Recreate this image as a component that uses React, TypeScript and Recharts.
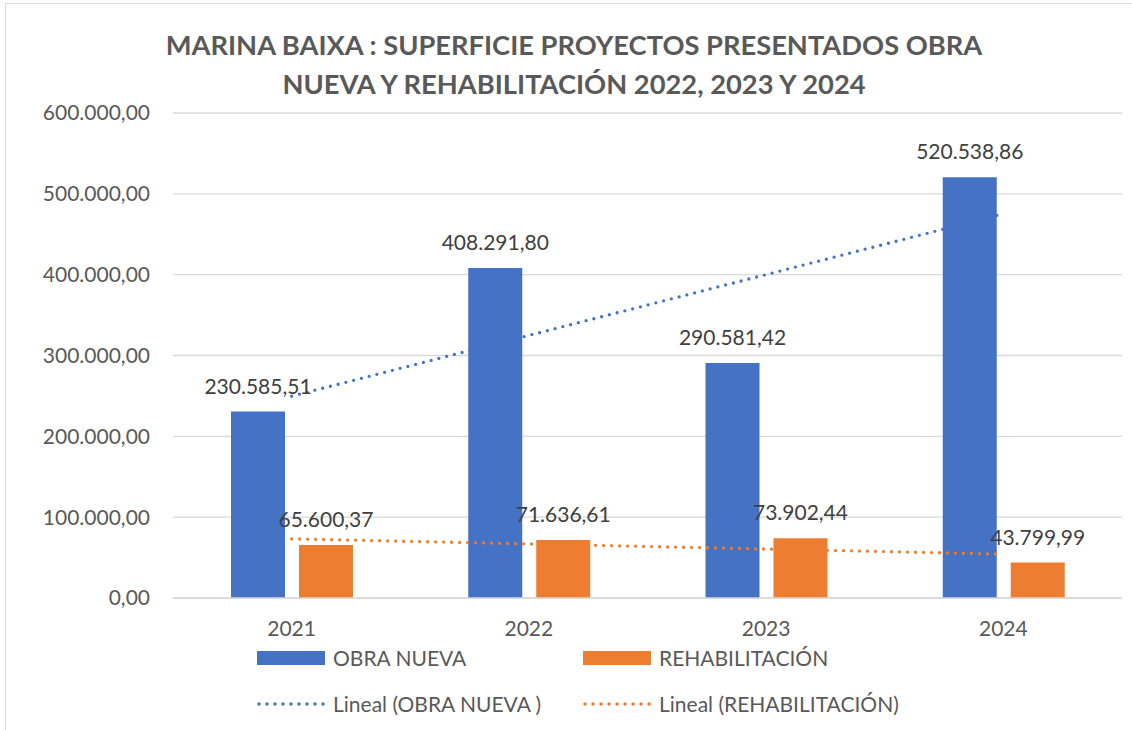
import {
  Bar,
  CartesianGrid,
  ComposedChart,
  LabelList,
  Line,
  XAxis,
  YAxis,
} from "recharts";

const years = ["2021", "2022", "2023", "2024"];
const obraNueva = [230585.51, 408291.8, 290581.42, 520538.86];
const rehabilitacion = [65600.37, 71636.61, 73902.44, 43799.99];
const yTicks = [0, 100000, 200000, 300000, 400000, 500000, 600000];

const BLUE = "#4472C4";
const ORANGE = "#ED7D31";
const FONT = "Lato, 'Open Sans', sans-serif";

// least squares fit, same as Excel's "Lineal" trendline
function linearTrend(values: number[]): number[] {
  const n = values.length;
  const xs = values.map((_, i) => i + 1);
  const mx = xs.reduce((a, b) => a + b, 0) / n;
  const my = values.reduce((a, b) => a + b, 0) / n;
  let num = 0;
  let den = 0;
  xs.forEach((x, i) => {
    num += (x - mx) * (values[i] - my);
    den += (x - mx) * (x - mx);
  });
  const slope = num / den;
  return xs.map((x) => my + slope * (x - mx));
}

const trendObra = linearTrend(obraNueva);
const trendRehab = linearTrend(rehabilitacion);

const data = years.map((year, i) => ({
  year,
  obra: obraNueva[i],
  rehab: rehabilitacion[i],
  trendObra: trendObra[i],
  trendRehab: trendRehab[i],
}));

function fmt(v: number): string {
  const fixed = Math.abs(v).toFixed(2);
  const [int, dec] = fixed.split(".");
  const grouped = int.replace(/\B(?=(\d{3})+(?!\d))/g, ".");
  return (v < 0 ? "-" : "") + grouped + "," + dec;
}

function LegendItem({
  color,
  label,
  dotted,
}: {
  color: string;
  label: string;
  dotted?: boolean;
}) {
  return (
    <div style={{ display: "flex", alignItems: "center", width: 326 }}>
      <svg width={76} height={20} style={{ flexShrink: 0 }}>
        {dotted ? (
          <line
            x1={2}
            y1={10}
            x2={68}
            y2={10}
            stroke={color}
            strokeWidth={3.5}
            strokeDasharray="0 8"
            strokeLinecap="round"
          />
        ) : (
          <rect x={0} y={3} width={68} height={14} fill={color} />
        )}
      </svg>
      <span style={{ fontSize: 21, color: "#595959", whiteSpace: "nowrap" }}>
        {label}
      </span>
    </div>
  );
}

export default function App() {
  return (
    <div
      style={{
        position: "absolute",
        left: 0,
        top: 0,
        width: 1132,
        height: 730,
        background: "#fff",
        fontFamily: FONT,
        overflow: "hidden",
      }}
    >
      <div
        style={{
          position: "absolute",
          left: 5,
          top: 3,
          width: 1140,
          height: 740,
          border: "1.5px solid #d9d9d9",
        }}
      />
      <div
        style={{
          position: "absolute",
          left: 74,
          top: 25,
          width: 1000,
          textAlign: "center",
          fontSize: 27.3,
          fontWeight: 700,
          lineHeight: "39px",
          color: "#595959",
        }}
      >
        MARINA BAIXA : SUPERFICIE PROYECTOS PRESENTADOS OBRA
        <br />
        NUEVA Y REHABILITACIÓN 2022, 2023 Y 2024
      </div>
      <div style={{ position: "absolute", left: 0, top: 0 }}>
        <ComposedChart
          width={1132}
          height={730}
          data={data}
          margin={{ top: 113, right: 10, bottom: 102, left: 0 }}
          barCategoryGap={58}
          barGap={14}
        >
          <CartesianGrid vertical={false} stroke="#d9d9d9" strokeWidth={1.3} />
          <XAxis
            dataKey="year"
            height={30}
            axisLine={{ stroke: "#d9d9d9", strokeWidth: 1.3 }}
            tickLine={false}
            tickSize={0}
            tickMargin={23}
            tick={{ fontSize: 21, fill: "#595959", fontFamily: FONT }}
          />
          <YAxis
            width={173}
            domain={[0, 600000]}
            ticks={yTicks}
            interval={0}
            axisLine={false}
            tickLine={false}
            tickSize={0}
            tickMargin={23}
            tickFormatter={fmt}
            tick={{ fontSize: 21, fill: "#595959", fontFamily: FONT }}
          />
          <Line
            dataKey="trendObra"
            type="linear"
            stroke={BLUE}
            strokeWidth={3.3}
            strokeDasharray="0 8"
            strokeLinecap="round"
            dot={false}
            activeDot={false}
            isAnimationActive={false}
          />
          <Line
            dataKey="trendRehab"
            type="linear"
            stroke={ORANGE}
            strokeWidth={3.3}
            strokeDasharray="0 8"
            strokeLinecap="round"
            dot={false}
            activeDot={false}
            isAnimationActive={false}
          />
          <Bar dataKey="obra" fill={BLUE} isAnimationActive={false}>
            <LabelList
              dataKey="obra"
              position="top"
              offset={18}
              formatter={(v: number) => fmt(v)}
              style={{ fontSize: 21, fill: "#404040", fontFamily: FONT }}
            />
          </Bar>
          <Bar dataKey="rehab" fill={ORANGE} isAnimationActive={false}>
            <LabelList
              dataKey="rehab"
              position="top"
              offset={18}
              formatter={(v: number) => fmt(v)}
              style={{ fontSize: 21, fill: "#404040", fontFamily: FONT }}
            />
          </Bar>
        </ComposedChart>
      </div>
      <div style={{ position: "absolute", left: 257, top: 645 }}>
        <div style={{ display: "flex" }}>
          <LegendItem color={BLUE} label="OBRA NUEVA" />
          <LegendItem color={ORANGE} label="REHABILITACIÓN" />
        </div>
        <div style={{ display: "flex", marginTop: 21 }}>
          <LegendItem color={BLUE} label="Lineal (OBRA NUEVA )" dotted />
          <LegendItem color={ORANGE} label="Lineal (REHABILITACIÓN)" dotted />
        </div>
      </div>
    </div>
  );
}
